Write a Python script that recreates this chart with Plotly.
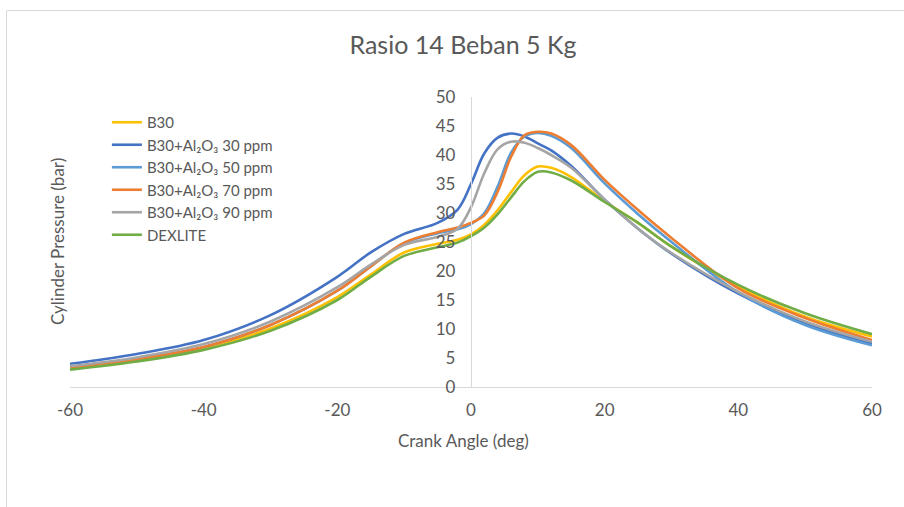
import plotly.graph_objects as go

crank_angle = [-60, -50, -40, -30, -20, -15, -10, -5, -2, 0, 2, 4, 6, 8, 10, 12, 15, 20, 25, 30, 40, 50, 60]

b30 = [3.2, 4.5, 6.7, 10.1, 15.5, 19.4, 23.2, 24.7, 25.4, 26.3, 28.0, 30.5, 33.6, 36.5, 38.0, 37.8, 36.2, 32.0, 28.3, 24.2, 17.3, 12.1, 8.7]
al_30 = [4.0, 5.7, 8.1, 12.4, 19.0, 23.2, 26.4, 28.3, 30.6, 35.0, 40.3, 43.0, 43.7, 43.2, 42.0, 40.8, 38.1, 32.3, 27.3, 23.0, 16.1, 11.0, 7.5]
al_50 = [3.4, 4.8, 6.9, 10.7, 16.6, 20.8, 24.8, 26.5, 27.2, 28.1, 30.0, 34.6, 40.4, 43.2, 43.8, 43.3, 41.2, 35.1, 29.8, 25.0, 16.3, 10.7, 7.2]
al_70 = [3.4, 4.8, 6.9, 10.7, 16.6, 20.8, 24.9, 26.7, 27.5, 28.3, 29.6, 33.7, 39.7, 43.4, 44.0, 43.7, 41.7, 35.7, 30.5, 25.7, 17.0, 11.9, 8.1]
al_90 = [3.6, 5.1, 7.4, 11.3, 17.2, 21.1, 24.5, 25.9, 27.3, 31.0, 36.9, 41.0, 42.3, 42.1, 41.2, 40.0, 37.8, 32.3, 27.3, 23.1, 16.4, 11.3, 7.8]
dexlite = [3.0, 4.4, 6.4, 9.7, 15.0, 19.0, 22.6, 24.1, 24.9, 26.0, 27.5, 29.8, 32.7, 35.5, 37.1, 37.0, 35.6, 31.9, 28.3, 24.2, 17.6, 12.7, 9.1]

series_names = ["B30", "B30+Al₂O₃ 30 ppm", "B30+Al₂O₃ 50 ppm",
                "B30+Al₂O₃ 70 ppm", "B30+Al₂O₃ 90 ppm", "DEXLITE"]
series_values = [b30, al_30, al_50, al_70, al_90, dexlite]
series_colors = ["#FFC000", "#4472C4", "#5B9BD5", "#ED7D31", "#A5A5A5", "#70AD47"]

x_ticks = [-60, -40, -20, 0, 20, 40, 60]
x_tick_labels = ["-60", "-40", "-20", "0", "20", "40", "60"]
y_ticks = [0, 5, 10, 15, 20, 25, 30, 35, 40, 45, 50]

FONT = "Lato, Carlito, Calibri, sans-serif"
GREY = "#595959"

fig = go.Figure()
for name, vals, col in zip(series_names, series_values, series_colors):
    fig.add_trace(go.Scatter(x=crank_angle, y=vals, name=name, mode="lines",
                             line=dict(color=col, width=2.6, shape="spline", smoothing=1.0)))

fig.update_layout(
    width=904, height=507,
    margin=dict(l=70, r=32, t=97, b=120),
    paper_bgcolor="white", plot_bgcolor="white",
    font=dict(family=FONT, color=GREY, size=17),
    title=dict(text="Rasio 14 Beban 5 Kg", x=463/904, y=1-45/507, xref="container", yref="container",
               xanchor="center", yanchor="middle", font=dict(size=25, color=GREY, family=FONT)),
    showlegend=True,
    legend=dict(x=0.046, y=0.969, xanchor="left", yanchor="top", bgcolor="rgba(0,0,0,0)",
                font=dict(size=15, color=GREY, family=FONT), tracegroupgap=0),
    xaxis=dict(range=[-60, 60], tickvals=x_ticks, ticktext=x_tick_labels, showgrid=False, zeroline=False,
               showline=True, linecolor="#D9D9D9", linewidth=1.3, ticks="", ticklabelstandoff=7,
               tickfont=dict(size=17, color=GREY)),
    yaxis=dict(range=[0, 50], tickvals=y_ticks, showgrid=False, zeroline=False,
               anchor="free", position=0.5, showline=True, linecolor="#D9D9D9", linewidth=1.3,
               ticks="", ticklabelstandoff=12, tickfont=dict(size=17, color=GREY)),
    annotations=[
        dict(text="Crank Angle (deg)", x=(463-70)/802, y=(387-440)/290, xref="paper", yref="paper",
             showarrow=False, xanchor="center", yanchor="middle", font=dict(size=17, color=GREY)),
        dict(text="Cylinder Pressure (bar)", x=(57-70)/802, y=(387-242)/290, xref="paper", yref="paper",
             showarrow=False, textangle=-90, xanchor="center", yanchor="middle", font=dict(size=17, color=GREY)),
    ],
    shapes=[dict(type="rect", xref="paper", yref="paper", x0=(6.5-70)/802, x1=(915-70)/802,
                 y0=(387-520)/290, y1=(387-10.5)/290, line=dict(color="#D9D9D9", width=1), layer="below")],
)

fig.write_html("out.html", config={"displayModeBar": False},
               post_script="document.body.style.margin='0';")
